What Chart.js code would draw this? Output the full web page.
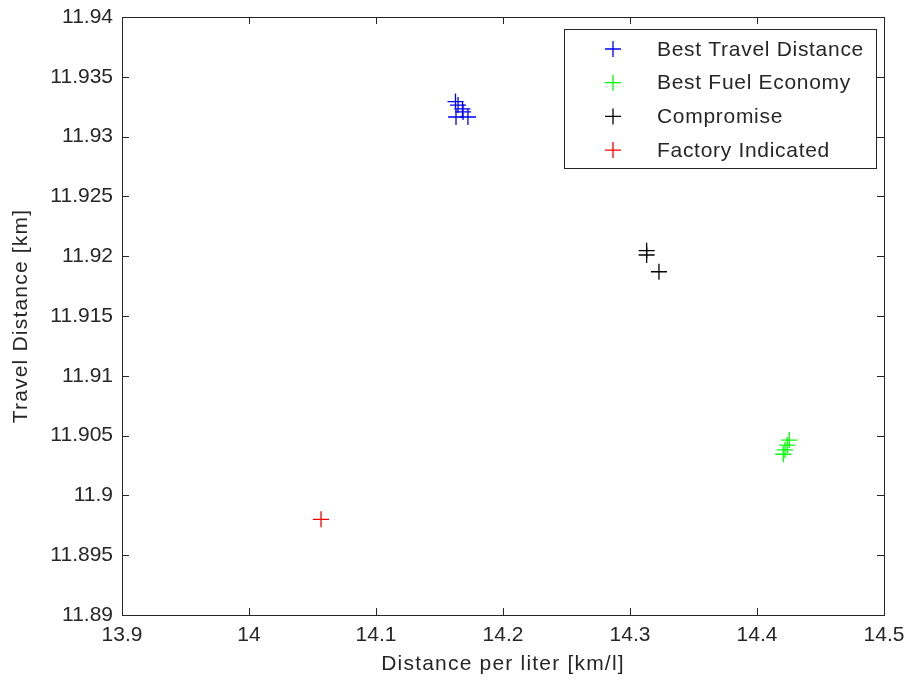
<!DOCTYPE html>
<html>
<head>
<meta charset="utf-8">
<script src="https://cdn.jsdelivr.net/npm/chart.js@4/dist/chart.umd.min.js"></script>
<style>
  html, body { margin: 0; padding: 0; background: #fff; }
  #wrap { width: 909px; height: 681px; }
</style>
</head>
<body>
<div id="wrap"><canvas id="chart"></canvas></div>
<script>
/* ---------- data ---------- */
const bestTravelX = [14.1626, 14.1646, 14.1681, 14.1630, 14.1724, 14.1685];
const bestTravelY = [11.93293, 11.93264, 11.93231, 11.93164, 11.93164, 11.93206];

const bestFuelX = [14.4254, 14.4238, 14.4220, 14.4207];
const bestFuelY = [11.90463, 11.90421, 11.90380, 11.90344];

const compromiseX = [14.3131, 14.3131, 14.3228];
const compromiseY = [11.92046, 11.92010, 11.91870];

const factoryX = [14.0567];
const factoryY = [11.8980];

const seriesNames = ["Best Travel Distance", "Best Fuel Economy", "Compromise", "Factory Indicated"];
const seriesColors = ["#0000ff", "#00ff00", "#000000", "#ff0000"];

const xTicks = [13.9, 14, 14.1, 14.2, 14.3, 14.4, 14.5];
const yTicks = [11.89, 11.895, 11.9, 11.905, 11.91, 11.915, 11.92, 11.925, 11.93, 11.935, 11.94];

const xTitle = "Distance per liter [km/l]";
const yTitle = "Travel Distance [km]";

const FONT = "Liberation Sans, Arial, sans-serif";
const INK = "#262626";

function pairs(xs, ys) {
  return xs.map((x, i) => ({ x: x, y: ys[i] }));
}

const allSeries = [
  pairs(bestTravelX, bestTravelY),
  pairs(bestFuelX, bestFuelY),
  pairs(compromiseX, compromiseY),
  pairs(factoryX, factoryY)
];

/* ---------- frame, inward ticks, titles, legend ---------- */
const matlabLook = {
  id: "matlabLook",
  afterDraw(chart) {
    const ctx = chart.ctx;
    const a = chart.chartArea;
    const xs = chart.scales.x;
    const ys = chart.scales.y;

    ctx.save();
    ctx.strokeStyle = INK;
    ctx.lineWidth = 1;
    ctx.strokeRect(Math.round(a.left) + 0.5, Math.round(a.top) + 0.5,
                   Math.round(a.right - a.left), Math.round(a.bottom - a.top));

    const len = 7;
    ctx.beginPath();
    xTicks.forEach(v => {
      const px = Math.round(xs.getPixelForValue(v)) + 0.5;
      ctx.moveTo(px, a.bottom); ctx.lineTo(px, a.bottom - len);
      ctx.moveTo(px, a.top); ctx.lineTo(px, a.top + len);
    });
    yTicks.forEach(v => {
      const py = Math.round(ys.getPixelForValue(v)) + 0.5;
      ctx.moveTo(a.left, py); ctx.lineTo(a.left + len, py);
      ctx.moveTo(a.right, py); ctx.lineTo(a.right - len, py);
    });
    ctx.stroke();

    // axis titles
    ctx.fillStyle = INK;
    ctx.font = "21px " + FONT;
    ctx.letterSpacing = "1.2px";
    ctx.textAlign = "center";
    ctx.textBaseline = "middle";
    ctx.fillText(xTitle, (a.left + a.right) / 2, 664);
    ctx.translate(21, (a.top + a.bottom) / 2);
    ctx.rotate(-Math.PI / 2);
    ctx.fillText(yTitle, 0, 0);
    ctx.restore();

    // legend box
    ctx.save();
    const bx = 564, by = 29, bw = 312, bh = 139;
    ctx.fillStyle = "#fff";
    ctx.fillRect(bx, by, bw, bh);
    ctx.strokeStyle = INK;
    ctx.lineWidth = 1;
    ctx.strokeRect(bx + 0.5, by + 0.5, bw, bh);
    ctx.font = "21px " + FONT;
    ctx.letterSpacing = "0.7px";
    ctx.textAlign = "left";
    ctx.textBaseline = "middle";
    seriesNames.forEach((name, i) => {
      const cy = 49 + i * 33.7;
      ctx.strokeStyle = seriesColors[i];
      ctx.lineWidth = 1.3;
      ctx.beginPath();
      ctx.moveTo(605, cy); ctx.lineTo(621, cy);
      ctx.moveTo(613, cy - 8); ctx.lineTo(613, cy + 8);
      ctx.stroke();
      ctx.fillStyle = INK;
      ctx.fillText(name, 657, cy + 1);
    });
    ctx.restore();
  }
};

new Chart(document.getElementById("chart"), {
  type: "scatter",
  data: {
    datasets: allSeries.map((pts, i) => ({
      label: seriesNames[i],
      data: pts,
      pointStyle: "cross",
      pointRadius: 8,
      pointHoverRadius: 8,
      borderWidth: 1.3,
      borderColor: seriesColors[i],
      backgroundColor: seriesColors[i]
    }))
  },
  options: {
    responsive: true,
    maintainAspectRatio: false,
    animation: false,
    events: [],
    layout: { padding: { top: 17, right: 25, left: 0, bottom: 0 } },
    plugins: {
      legend: { display: false },
      tooltip: { enabled: false }
    },
    scales: {
      x: {
        type: "linear",
        min: 13.9,
        max: 14.5,
        afterBuildTicks: s => { s.ticks = xTicks.map(v => ({ value: v })); },
        afterFit: s => { s.height = 66; s.paddingLeft = 0; s.paddingRight = 0; },
        grid: { display: false, drawTicks: false },
        border: { display: false },
        ticks: {
          color: INK,
          font: { family: FONT, size: 21 },
          padding: 8,
          maxRotation: 0,
          autoSkip: false,
          callback: v => String(parseFloat(v.toFixed(1)))
        }
      },
      y: {
        type: "linear",
        min: 11.89,
        max: 11.94,
        afterBuildTicks: s => { s.ticks = yTicks.map(v => ({ value: v })); },
        afterFit: s => { s.width = 122; s.paddingTop = 0; s.paddingBottom = 0; },
        grid: { display: false, drawTicks: false },
        border: { display: false },
        ticks: {
          color: INK,
          font: { family: FONT, size: 21 },
          padding: 9,
          autoSkip: false,
          callback: v => String(parseFloat(v.toFixed(3)))
        }
      }
    }
  },
  plugins: [matlabLook]
});
</script>
</body>
</html>
